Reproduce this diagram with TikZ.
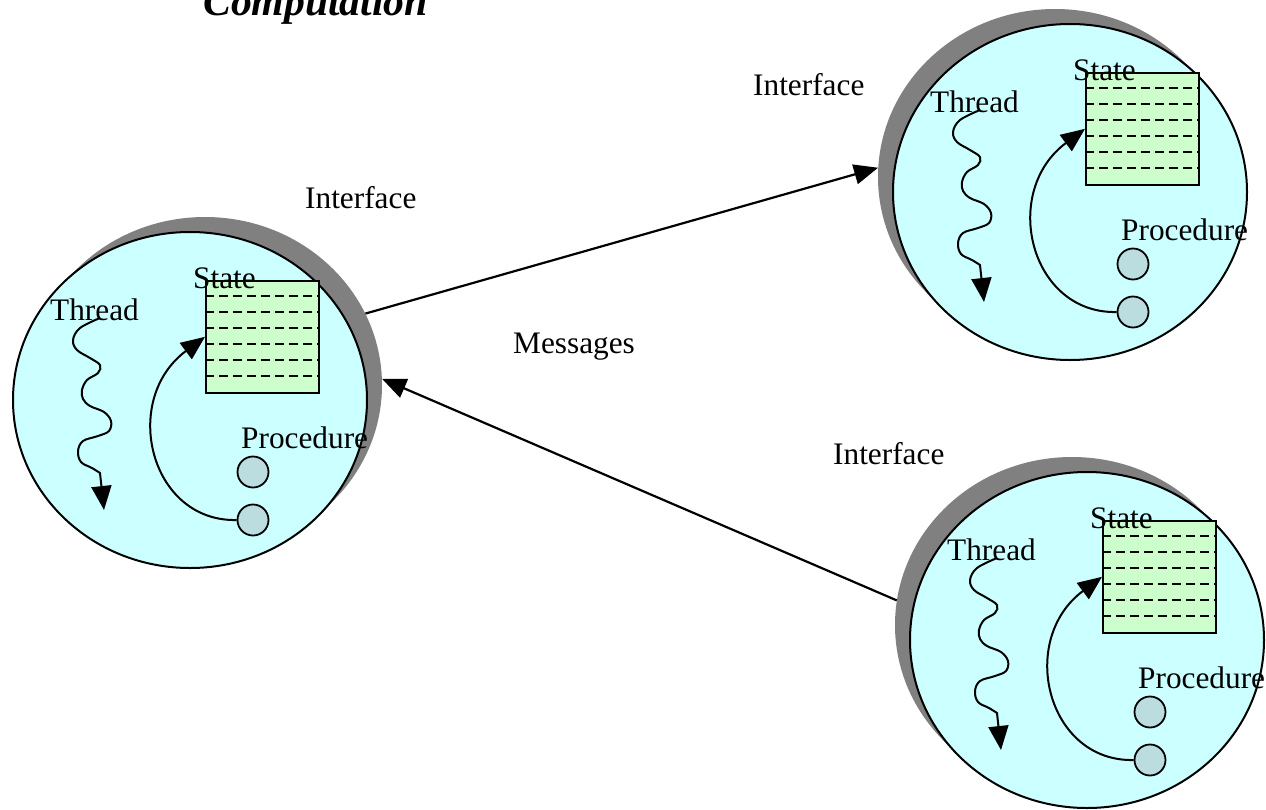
\documentclass[tikz,border=0pt]{standalone}
\usepackage{fontspec}
\setmainfont{Liberation Serif}
\usetikzlibrary{shapes.geometric,arrows.meta}
\definecolor{cellfill}{HTML}{CCFFFF}
\definecolor{statefill}{HTML}{CCFFCC}
\definecolor{procfill}{HTML}{BBDDE0}
\definecolor{shade}{HTML}{808080}
\tikzset{
  unitshadow/.style={ellipse, fill=shade, minimum width=354pt, minimum height=336pt, inner sep=0pt},
  unitbody/.style={ellipse, draw, line width=2pt, fill=cellfill, minimum width=354pt, minimum height=336pt, inner sep=0pt},
  statebox/.style={draw, line width=1.6pt, fill=statefill, minimum width=113pt, minimum height=112pt, inner sep=0pt, anchor=north west},
  rowline/.style={line width=1.6pt, dash pattern=on 9pt off 5pt},
  procdot/.style={circle, draw, line width=1.8pt, fill=procfill, minimum size=31pt, inner sep=0pt},
  lbl/.style={inner sep=0pt, anchor=base west, font=\fontsize{31.3}{36}\selectfont},
  flow/.style={line width=2pt, -{Triangle[length=24pt,width=20pt]}},
  conn/.style={line width=2.2pt, -{Triangle[length=24pt,width=20pt]}},
  % one computing unit: shadowed cell with state, thread and procedures
  compunit/.pic={
    \node[unitshadow] (-sh) at (#1,15) {};
    \node[unitbody] (-body) at (0,0) {};
    \node[statebox] (-state) at (15,120) {};
    \foreach \k in {1,...,6}
      \draw[rowline] (15,{120-16*\k}) -- (128,{120-16*\k});
    \node[lbl] (-stlabel) at (3,112) {State};
    \node[lbl] (-thlabel) at (-140,80) {Thread};
    \node[lbl] (-prlabel) at (51,-48) {Procedure};
    \node[procdot] (-p1) at (63,-72) {};
    \node[procdot] (-p2) at (63,-120) {};
    \coordinate (-tend) at (-86,-110);
    \draw[flow] plot[smooth, tension=0.6] coordinates {
      (-90,82) (-110,72) (-117,60) (-113,50) (-100,42) (-90,35)
      (-92,27) (-103,20) (-108,10) (-107,1) (-100,-6) (-86,-12)
      (-79,-21) (-81,-31) (-92,-36) (-107,-41) (-112,-51) (-109,-62)
      (-98,-68) (-90,-73)} -- (-tend);
    \draw[flow] (-p2.west) .. controls (-40,-122) and (-70,0) .. (-state.west);
  }
}
\begin{document}
\begin{tikzpicture}[x=1pt,y=1pt]
\useasboundingbox (0,0) rectangle (1266,-809);
\node[inner sep=0pt, anchor=base west, font=\fontsize{41.7}{48}\selectfont\bfseries\itshape] (title) at (203,-15) {Computation};
\pic (L) at (190,-400) {compunit=15};
\pic (TR) at (1070,-192) {compunit=-15};
\pic (BR) at (1087,-640) {compunit=-15};
\node[lbl] (ifL) at (305,-208) {Interface};
\node[lbl] (ifTR) at (753,-95) {Interface};
\node[lbl] (ifBR) at (833,-464) {Interface};
\node[lbl] (msg) at (513,-353) {Messages};
\draw[conn] (L-sh.24.5) -- (TR-sh.177);
\draw[conn] (BR-sh.172.3) -- (L-sh.2.6);
\end{tikzpicture}
\end{document}
